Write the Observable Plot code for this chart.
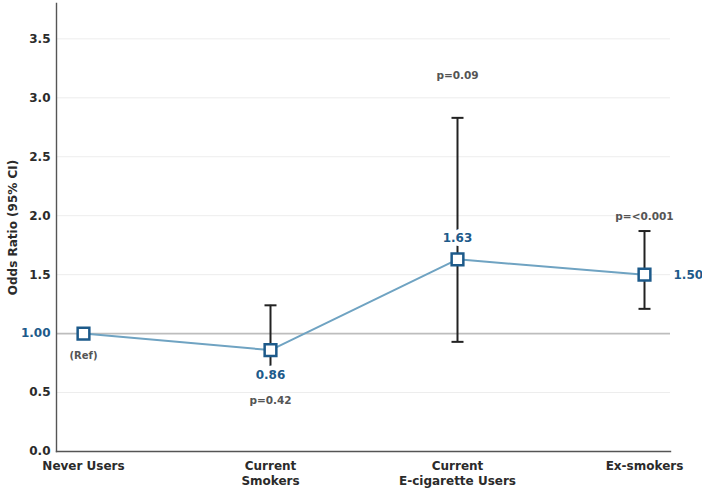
<!DOCTYPE html>
<html><head><meta charset="utf-8">
<script src="https://cdn.jsdelivr.net/npm/d3@7"></script>
<script src="https://cdn.jsdelivr.net/npm/@observablehq/plot@0.6"></script>
<style>body{margin:0;background:#fff}</style>
</head><body><div id="chart"></div>
<script>
const categories = ["Never Users", "Current Smokers", "Current E-cigarette Users", "Ex-smokers"];
const axisLabels = ["Never Users", "Current\nSmokers", "Current\nE-cigarette Users", "Ex-smokers"];
const oddsRatios = [1.00, 0.86, 1.63, 1.50];
const ciLower = [null, 0.60, 0.93, 1.21];
const ciUpper = [null, 1.24, 2.83, 1.87];
const pValues = [null, "p=0.42", "p=0.09", "p=<0.001"];
const valueLabels = ["(Ref)", "0.86", "1.63", "1.50"];
const yTicks = [0, 0.5, 1, 1.5, 2, 2.5, 3, 3.5];

const rows = categories.map((c, i) => ({
  cat: c, or: oddsRatios[i], lo: ciLower[i], hi: ciUpper[i], p: pValues[i], lab: valueLabels[i]
}));
const withCI = rows.filter(d => d.lo != null);

const BLUE = "#1d5a8a";
const LINE = "#6fa3c2";
const capSymbol = {draw(ctx) { ctx.moveTo(-6, 0); ctx.lineTo(6, 0); }};
const FONT = "'DejaVu Sans', sans-serif";

const chart = Plot.plot({
  width: 702, height: 488,
  marginLeft: 56, marginRight: 32, marginTop: 3, marginBottom: 37,
  style: {fontFamily: FONT, background: "#fff"},
  x: {type: "point", domain: categories, padding: 0.14},
  y: {domain: [0, 3.8]},
  marks: [
    Plot.gridY(yTicks.filter(t => t !== 0 && t !== 1), {stroke: "#ededed", strokeOpacity: 1, strokeWidth: 1}),
    Plot.ruleY([1], {stroke: "#bdbdbd", strokeWidth: 1.6}),
    Plot.axisY(yTicks.filter(t => t !== 1), {tickSize: 0, tickPadding: 6, tickFormat: d => d.toFixed(1), fill: "#2b2b2b", fontWeight: "bold", fontSize: 12,
      label: "Odds Ratio (95% CI)", labelAnchor: "center", labelArrow: "none", labelOffset: 48}),
    Plot.axisY([1], {tickSize: 0, tickPadding: 6, tickFormat: d => d.toFixed(2), fill: BLUE, fontWeight: "bold", fontSize: 12, label: null}),
    Plot.axisX({tickSize: 0, tickPadding: 7, tickFormat: d => axisLabels[categories.indexOf(d)], fill: "#2b2b2b", fontWeight: "bold", fontSize: 12, lineHeight: 1.3, label: null}),
    Plot.frame({anchor: "left", stroke: "#555", strokeWidth: 1.4}),
    Plot.frame({anchor: "bottom", stroke: "#555", strokeWidth: 1.4}),
    Plot.ruleX(withCI, {x: "cat", y1: "lo", y2: "hi", stroke: "#222", strokeWidth: 2}),
    Plot.dot(withCI, {x: "cat", y: "lo", symbol: capSymbol, stroke: "#222", strokeWidth: 2, fill: "none"}),
    Plot.dot(withCI, {x: "cat", y: "hi", symbol: capSymbol, stroke: "#222", strokeWidth: 2, fill: "none"}),
    Plot.line(rows, {x: "cat", y: "or", stroke: LINE, strokeWidth: 2}),
    Plot.dot(rows, {x: "cat", y: "or", symbol: "square", r: 6.6, fill: "white", stroke: BLUE, strokeWidth: 2.5}),
    Plot.text([rows[0]], {x: "cat", y: "or", text: "lab", dy: 22, fill: "#555", fontWeight: "bold", fontSize: 10, stroke: "white", strokeWidth: 4}),
    Plot.text([rows[1]], {x: "cat", y: "or", text: "lab", dy: 25, fill: BLUE, fontWeight: "bold", fontSize: 12, stroke: "white", strokeWidth: 9}),
    Plot.text([rows[2]], {x: "cat", y: "or", text: "lab", dy: -21, fill: BLUE, fontWeight: "bold", fontSize: 12, stroke: "white", strokeWidth: 8}),
    Plot.text([rows[3]], {x: "cat", y: "or", text: "lab", dx: 29, textAnchor: "start", fill: BLUE, fontWeight: "bold", fontSize: 12}),
    Plot.text([rows[1]], {x: "cat", y: "or", text: "p", dy: 51, fill: "#555", fontWeight: "bold", fontSize: 10.5}),
    Plot.text([rows[2]], {x: "cat", y: "hi", text: "p", dy: -42, fill: "#555", fontWeight: "bold", fontSize: 10.5}),
    Plot.text([rows[3]], {x: "cat", y: "hi", text: "p", dy: -14, fill: "#555", fontWeight: "bold", fontSize: 10.5})
  ]
});
document.getElementById("chart").appendChild(chart);
</script>
</body></html>
